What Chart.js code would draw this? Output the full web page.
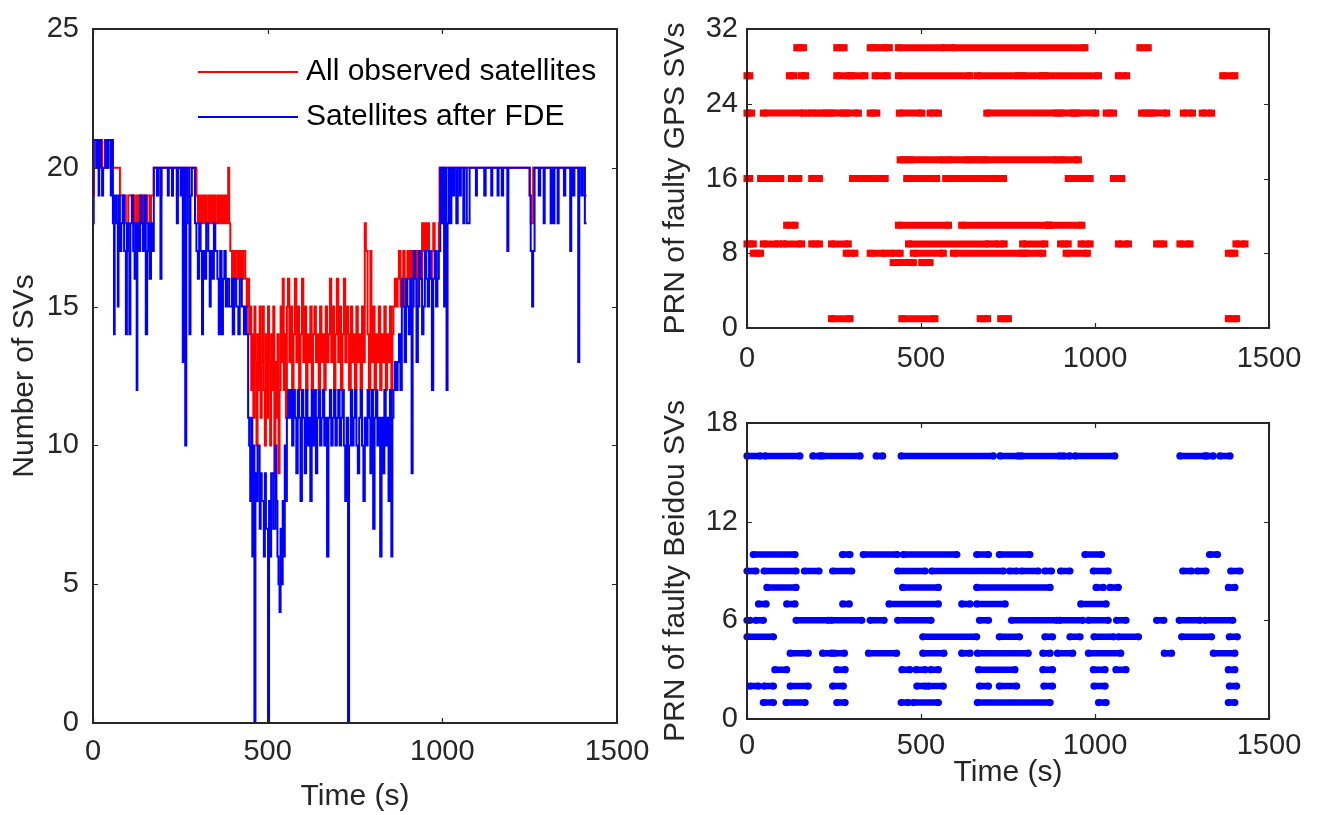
<!DOCTYPE html>
<html lang="en">
<head>
<meta charset="utf-8">
<title>Satellite counts and faulty PRNs</title>
<script src="https://cdn.jsdelivr.net/npm/chart.js@4.4.1/dist/chart.umd.min.js"></script>
<style>
  html, body { margin: 0; padding: 0; background: #ffffff; }
  body { position: relative; width: 1318px; height: 815px; overflow: hidden; }
  canvas { position: absolute; display: block; }
  #svChart { left: 0; top: 0; }
  #gpsChart { left: 650px; top: 0; }
  #bdsChart { left: 650px; top: 400px; }
</style>
</head>
<body>
<canvas id="svChart" width="650" height="815"></canvas>
<canvas id="gpsChart" width="668" height="400"></canvas>
<canvas id="bdsChart" width="668" height="415"></canvas>
<script>
// ---- Left panel: number of SVs, sampled at the change points (s) ----
const sampleTimes = [
  0, 2, 9, 11, 16, 18, 23, 26, 29, 35,
  40, 44, 51, 54, 57, 60, 62, 67, 71, 73,
  77, 81, 85, 89, 94, 97, 101, 104, 107, 111,
  115, 119, 121, 125, 127, 131, 135, 139, 143, 147,
  151, 155, 158, 162, 166, 170, 174, 183, 186, 193,
  196, 214, 217, 226, 229, 240, 243, 251, 254, 257,
  260, 264, 267, 270, 276, 279, 283, 292, 296, 300,
  304, 308, 312, 315, 320, 324, 330, 334, 337, 342,
  346, 350, 356, 360, 364, 368, 372, 376, 380, 384,
  387, 390, 393, 398, 400, 404, 407, 410, 413, 416,
  420, 423, 426, 430, 432, 436, 440,
  444, 447, 450, 453, 456, 459, 462, 465, 468, 471,
  474, 477, 480, 483, 486, 489, 492, 495, 498, 501,
  504, 507, 510, 513, 516, 519, 522, 525, 528, 531,
  534, 537, 540, 543, 546, 549, 552, 555, 558,
  562, 566, 570, 574, 578, 582, 586, 590, 594, 598,
  602, 606, 610, 614, 618, 622, 626, 630, 634, 638,
  642, 646, 650, 654, 658, 662, 666, 670, 674, 678,
  682, 686, 690, 694, 698, 702, 706, 710, 714, 718,
  722, 726, 730, 733, 738, 742, 746, 750, 754, 758,
  762, 766, 770, 774, 778, 781, 786, 790, 794, 797,
  802, 806, 810, 814, 818, 822, 826, 830, 834, 838,
  842, 846, 850, 854, 857,
  860, 864, 868, 872, 876, 880, 884, 888, 892, 896,
  900, 904, 908, 912, 915, 918, 922, 926, 930, 934,
  938, 942, 946, 950, 954, 958, 962, 966, 970, 974,
  978, 982, 986, 990,
  992, 994, 998, 1002, 1005, 1008, 1012, 1015, 1019, 1022,
  1026, 1030, 1034, 1040, 1044, 1050, 1053, 1060, 1063, 1070,
  1078, 1096, 1099, 1120, 1124, 1140, 1143, 1158, 1161, 1170,
  1174, 1186, 1189, 1250, 1253, 1257, 1260, 1264, 1276, 1280,
  1290, 1293, 1310, 1313, 1318, 1321, 1330, 1333, 1348, 1352,
  1366, 1369, 1374, 1378, 1389, 1392, 1398, 1402, 1408, 1413
];

const observedCounts = [
  19, 21, 21, 21, 20, 21, 21, 20, 20, 21,
  20, 21, 21, 21, 20, 20, 20, 20, 20, 20,
  19, 19, 19, 19, 18, 18, 19, 19, 19, 19,
  19, 18, 18, 19, 19, 18, 19, 18, 19, 19,
  18, 19, 19, 18, 19, 19, 20, 20, 20, 19,
  20, 20, 20, 19, 20, 19, 20, 20, 20, 20,
  20, 19, 19, 20, 20, 20, 20, 20, 19, 18,
  19, 18, 19, 18, 19, 18, 19, 18, 19, 18,
  19, 18, 19, 18, 19, 18, 19, 18, 19, 18,
  20, 18, 17, 16, 17, 16, 17, 17, 16, 17,
  16, 17, 16, 17, 17, 16, 15,
  16, 14, 15, 12, 14, 11, 15, 13, 10, 14,
  12, 15, 11, 13, 15, 12, 10, 14, 11, 15,
  13, 10, 14, 12, 15, 9, 13, 11, 14, 9,
  12, 15, 13, 16, 12, 14, 11, 15, 16,
  13, 15, 12, 14, 16, 13, 15, 12, 14, 16,
  13, 15, 12, 14, 13, 15, 12, 14, 15, 13,
  14, 12, 15, 13, 14, 12, 15, 13, 14, 16,
  13, 15, 12, 14, 16, 13, 15, 12, 14, 16,
  13, 15, 14, 12, 15, 13, 14, 12, 15, 13,
  14, 12, 15, 13, 18, 17, 14, 12, 17, 13,
  15, 12, 14, 13, 15, 12, 14, 13, 15, 12,
  14, 13, 15, 12, 14,
  15, 16, 15, 16, 17, 15, 16, 17, 15, 16,
  17, 16, 17, 16, 17, 17, 17, 15, 17, 17,
  16, 18, 17, 18, 17, 18, 17, 16, 17, 18,
  17, 16, 17, 18,
  20, 20, 20, 20, 20, 20, 20, 20, 20, 20,
  20, 20, 20, 20, 20, 20, 20, 20, 20, 20,
  20, 20, 20, 20, 20, 20, 20, 20, 20, 20,
  20, 20, 20, 19, 18, 18, 20, 20, 20, 20,
  20, 20, 20, 20, 20, 20, 20, 20, 20, 20,
  20, 20, 20, 20, 20, 20, 20, 20, 19, 19
];

const afterFdeCounts = [
  18, 21, 20, 21, 19, 21, 20, 19, 20, 21,
  20, 21, 19, 21, 18, 14, 19, 18, 15, 19,
  17, 18, 19, 17, 14, 18, 17, 14, 18, 19,
  17, 16, 18, 12, 18, 17, 19, 18, 17, 19,
  14, 17, 18, 16, 18, 17, 20, 19, 20, 16,
  20, 19, 20, 19, 20, 18, 20, 19, 20, 13,
  20, 10, 18, 20, 14, 19, 20, 18, 17, 16,
  18, 17, 14, 17, 16, 18, 17, 15, 17, 16,
  18, 17, 16, 14, 17, 14, 16, 17, 15, 16,
  16, 15, 15, 16, 14, 16, 16, 15, 15, 14,
  16, 16, 15, 15, 14, 15, 14,
  11, 10, 8, 11, 6, 10, 0, 9, 8, 10,
  10, 7, 9, 8, 8, 6, 9, 7, 7, 0,
  8, 6, 9, 9, 7, 7, 10, 8, 6, 5,
  4, 7, 5, 8, 6, 10, 8, 11, 12,
  11, 12, 10, 12, 11, 9, 12, 11, 8, 12,
  11, 9, 12, 10, 11, 8, 12, 10, 12, 9,
  11, 12, 10, 11, 12, 10, 11, 6, 11, 12,
  10, 11, 12, 10, 11, 12, 10, 11, 12, 10,
  8, 11, 0, 10, 12, 10, 11, 12, 10, 9,
  11, 12, 10, 8, 11, 10, 12, 11, 9, 12,
  7, 11, 12, 10, 11, 6, 11, 9, 12, 10,
  11, 8, 12, 6, 11,
  12, 13, 12, 13, 14, 12, 16, 15, 13, 16,
  15, 14, 16, 9, 15, 17, 16, 13, 15, 17,
  16, 14, 15, 17, 16, 15, 17, 16, 12, 16,
  17, 15, 16, 17,
  17, 20, 18, 20, 15, 20, 12, 18, 20, 18,
  20, 19, 20, 18, 20, 19, 20, 18, 20, 18,
  20, 19, 20, 19, 20, 19, 20, 19, 20, 19,
  20, 17, 20, 19, 17, 15, 17, 20, 19, 20,
  18, 20, 18, 20, 18, 20, 18, 20, 19, 20,
  17, 20, 19, 20, 13, 20, 19, 20, 18, 18
];

// ---- Right panels: faulty PRNs as [start, end] time spans (s) ----
const gps30 = [[143, 162], [258, 279], [354, 373], [390, 409], [435, 569], [588, 971], [1129, 1153]];
const gps27 = [[0, 8], [122, 134], [155, 168], [258, 296], [300, 339], [368, 403], [435, 641], [662, 780], [792, 849], [857, 1010], [1067, 1091], [1367, 1402]];
const gps23 = [[0, 13], [47, 162], [176, 200], [215, 234], [243, 277], [286, 320], [354, 373], [438, 502], [526, 550], [689, 890], [899, 938], [945, 1002], [1032, 1053], [1134, 1155], [1163, 1206], [1254, 1280], [1308, 1335]];
const gps18 = [[440, 459], [468, 564], [579, 636], [646, 670], [681, 890], [904, 952]];
const gps16 = [[0, 8], [39, 97], [128, 149], [186, 208], [303, 363], [375, 397], [459, 545], [571, 703], [713, 737], [923, 986], [1053, 1077]];
const gps11 = [[114, 138], [435, 579], [617, 866], [869, 962]];
const gps9 = [[0, 18], [47, 90], [104, 157], [186, 208], [243, 291], [464, 694], [713, 739], [792, 856], [901, 923], [960, 986], [1067, 1096], [1177, 1198], [1244, 1273], [1405, 1431]];
const gps8 = [[18, 39], [285, 310], [354, 397], [413, 440], [478, 564], [593, 789], [799, 850], [917, 978], [1383, 1402]];
const gps7 = [[420, 478], [502, 526]];
const gps1 = [[243, 296], [445, 540], [670, 691], [729, 751], [1383, 1407]];

const bds16 = [[0, 38], [52, 152], [189, 210], [217, 325], [371, 390], [443, 708], [727, 780], [789, 899], [909, 928], [943, 1057], [1244, 1316], [1321, 1340], [1359, 1388]];
const bds10 = [[18, 138], [274, 296], [334, 432], [449, 603], [660, 694], [725, 813], [971, 1019], [1329, 1352]];
const bds9 = [[0, 26], [49, 141], [165, 207], [246, 301], [433, 512], [531, 737], [754, 775], [789, 837], [856, 875], [901, 928], [995, 1038], [1252, 1278], [1294, 1319], [1390, 1417]];
const bds8 = [[57, 141], [447, 550], [660, 871], [1003, 1024], [1043, 1067], [1383, 1402]];
const bds7 = [[33, 55], [114, 138], [275, 294], [408, 550], [617, 641], [660, 742], [959, 1032]];
const bds6 = [[0, 9], [25, 47], [141, 234], [243, 330], [354, 394], [433, 529], [668, 694], [760, 890], [899, 965], [981, 1038], [1062, 1089], [1177, 1198], [1242, 1302], [1316, 1396]];
const bds5 = [[0, 76], [505, 660], [725, 783], [856, 878], [928, 957], [997, 1053], [1067, 1125], [1249, 1335], [1386, 1409]];
const bds4 = [[124, 176], [217, 243], [251, 280], [349, 430], [505, 566], [617, 641], [662, 808], [850, 871], [892, 936], [981, 1074], [1199, 1220], [1340, 1402]];
const bds3 = [[80, 114], [258, 282], [445, 468], [486, 512], [528, 550], [665, 770], [850, 878], [995, 1029], [1060, 1089], [1383, 1402]];
const bds2 = [[9, 33], [49, 76], [124, 176], [246, 277], [488, 512], [521, 564], [668, 694], [725, 775], [853, 878], [997, 1029], [1386, 1407]];
const bds1 = [[47, 76], [112, 167], [258, 282], [443, 464], [478, 550], [662, 871], [1010, 1032], [1383, 1402]];

const gpsRows = [[30, gps30], [27, gps27], [23, gps23], [18, gps18], [16, gps16], [11, gps11], [9, gps9], [8, gps8], [7, gps7], [1, gps1]];
const bdsRows = [[16, bds16], [10, bds10], [9, bds9], [8, bds8], [7, bds7], [6, bds6], [5, bds5], [4, bds4], [3, bds3], [2, bds2], [1, bds1]];

// tick values
const timeTicks = [0, 500, 1000, 1500];
const svTicks = [0, 5, 10, 15, 20, 25];
const gpsTicks = [0, 8, 16, 24, 32];
const bdsTicks = [0, 6, 12, 18];

const FONT = '"Liberation Sans", Arial, Helvetica, sans-serif';
const INK = '#262626';

// boxed axes with short inward ticks on all four sides
const boxFrame = {
  id: 'boxFrame',
  afterDraw(chart) {
    const { ctx, chartArea: a, scales: { x, y } } = chart;
    const len = 5;
    ctx.save();
    ctx.strokeStyle = INK;
    ctx.lineWidth = 1.2;
    ctx.beginPath();
    x.ticks.forEach(t => {
      const px = Math.round(x.getPixelForValue(t.value)) + 0.5;
      ctx.moveTo(px, a.bottom); ctx.lineTo(px, a.bottom - len);
      ctx.moveTo(px, a.top); ctx.lineTo(px, a.top + len);
    });
    y.ticks.forEach(t => {
      const py = Math.round(y.getPixelForValue(t.value)) + 0.5;
      ctx.moveTo(a.left, py); ctx.lineTo(a.left + len, py);
      ctx.moveTo(a.right, py); ctx.lineTo(a.right - len, py);
    });
    ctx.stroke();
    ctx.lineWidth = 2;
    ctx.strokeRect(a.left, a.top, a.right - a.left, a.bottom - a.top);
    ctx.restore();
  }
};

// legend drawn inside the plot box, no frame
const insideLegend = {
  id: 'insideLegend',
  afterDraw(chart, args, opts) {
    const { ctx, chartArea: a } = chart;
    ctx.save();
    ctx.font = opts.size + 'px ' + FONT;
    ctx.textBaseline = 'middle';
    ctx.textAlign = 'left';
    chart.data.datasets.forEach((ds, i) => {
      const y = a.top + opts.top + i * opts.rowGap;
      const x0 = a.left + opts.left;
      ctx.strokeStyle = ds.borderColor;
      ctx.lineWidth = ds.borderWidth;
      ctx.beginPath();
      ctx.moveTo(x0, y);
      ctx.lineTo(x0 + opts.lineLength, y);
      ctx.stroke();
      ctx.fillStyle = '#000000';
      ctx.fillText(ds.label, x0 + opts.lineLength + opts.gap, y);
    });
    ctx.restore();
  }
};

function axis(o) {
  return {
    type: 'linear',
    min: o.min,
    max: o.max,
    afterBuildTicks: scale => { scale.ticks = o.ticks.map(v => ({ value: v })); },
    grid: { display: false, drawTicks: false },
    border: { display: false },
    ticks: {
      color: INK,
      padding: o.pad,
      autoSkip: false,
      maxRotation: 0,
      font: { family: FONT, size: 29 },
      callback: v => String(v)
    },
    title: o.title
      ? { display: true, text: o.title, color: INK, font: { family: FONT, size: 30 }, padding: o.titlePad }
      : { display: false },
    afterFit(scale) {
      if (scale.isHorizontal()) scale.height = o.size; else scale.width = o.size;
      scale.paddingLeft = 0; scale.paddingRight = 0;
      scale.paddingTop = 0; scale.paddingBottom = 0;
    }
  };
}

function baseOptions(padding, scales) {
  return {
    responsive: false,
    animation: false,
    devicePixelRatio: 1,
    events: [],
    layout: { padding, autoPadding: false },
    plugins: { legend: { display: false }, tooltip: { enabled: false }, title: { display: false } },
    scales
  };
}

function spansToPoints(rows) {
  const pts = [];
  rows.forEach(([prn, spans]) => {
    spans.forEach(([from, to]) => {
      pts.push({ x: from, y: prn }, { x: to, y: prn }, { x: to, y: null });
    });
  });
  return pts;
}

// left: SV counts
const svOptions = baseOptions({ left: 0, top: 29, right: 33, bottom: 0 }, {
  x: axis({ min: 0, max: 1500, ticks: timeTicks, pad: 12, size: 92, title: 'Time (s)', titlePad: { top: 0, bottom: 0 } }),
  y: axis({ min: 0, max: 25, ticks: svTicks, pad: 14, size: 93, title: 'Number of SVs', titlePad: { top: 7, bottom: 0 } })
});
svOptions.plugins.insideLegend = { left: 105, top: 43, rowGap: 45, lineLength: 100, gap: 8, size: 30 };

new Chart(document.getElementById('svChart'), {
  type: 'line',
  data: {
    datasets: [
      {
        label: 'All observed satellites',
        data: sampleTimes.map((t, i) => ({ x: t, y: observedCounts[i] })),
        borderColor: '#ff0000',
        borderWidth: 2,
        stepped: true,
        pointRadius: 0,
        fill: false,
        order: 2
      },
      {
        label: 'Satellites after FDE',
        data: sampleTimes.map((t, i) => ({ x: t, y: afterFdeCounts[i] })),
        borderColor: '#0000ff',
        borderWidth: 2,
        stepped: true,
        pointRadius: 0,
        fill: false,
        order: 1
      }
    ]
  },
  options: svOptions,
  plugins: [boxFrame, insideLegend]
});

// top right: faulty GPS PRNs
new Chart(document.getElementById('gpsChart'), {
  type: 'line',
  data: {
    datasets: [{
      label: 'GPS',
      data: spansToPoints(gpsRows),
      borderColor: '#ff0000',
      borderWidth: 7,
      spanGaps: false,
      pointStyle: 'rect',
      pointRadius: 5,
      pointBorderWidth: 0,
      pointBackgroundColor: '#ff0000',
      clip: false
    }]
  },
  options: baseOptions({ left: 0, top: 29, right: 49, bottom: 0 }, {
    x: axis({ min: 0, max: 1500, ticks: timeTicks, pad: 14, size: 72 }),
    y: axis({ min: 0, max: 32, ticks: gpsTicks, pad: 9, size: 97, title: 'PRN of faulty GPS SVs', titlePad: { top: 8, bottom: 0 } })
  }),
  plugins: [boxFrame]
});

// bottom right: faulty Beidou PRNs
new Chart(document.getElementById('bdsChart'), {
  type: 'line',
  data: {
    datasets: [{
      label: 'Beidou',
      data: spansToPoints(bdsRows),
      borderColor: '#0000ff',
      borderWidth: 6.5,
      spanGaps: false,
      pointStyle: 'circle',
      pointRadius: 3.6,
      pointBorderWidth: 0,
      pointBackgroundColor: '#0000ff',
      clip: false
    }]
  },
  options: baseOptions({ left: 0, top: 23, right: 49, bottom: 0 }, {
    x: axis({ min: 0, max: 1500, ticks: timeTicks, pad: 10, size: 96, title: 'Time (s)', titlePad: { top: 0, bottom: 24 } }),
    y: axis({ min: 0, max: 18, ticks: bdsTicks, pad: 9, size: 97, title: 'PRN of faulty Beidou SVs', titlePad: { top: 8, bottom: 0 } })
  }),
  plugins: [boxFrame]
});
</script>
</body>
</html>
